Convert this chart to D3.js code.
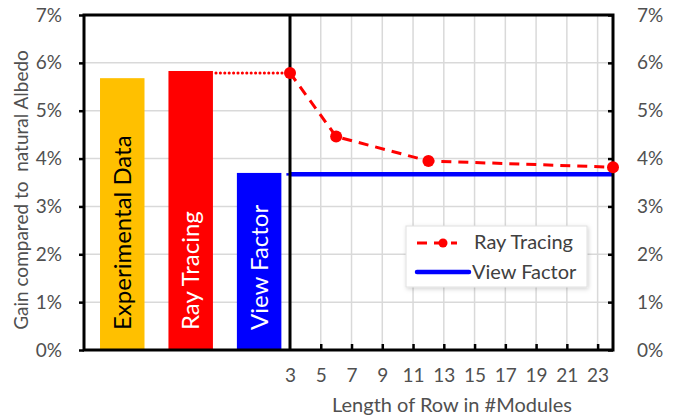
<!DOCTYPE html>
<html>
<head>
<meta charset="utf-8">
<script src="https://cdn.jsdelivr.net/npm/d3@7"></script>
<style>
  html, body { margin: 0; padding: 0; background: #fff; }
  svg { display: block; }
  text { font-family: Lato, "Open Sans", sans-serif; }
</style>
</head>
<body>
<svg id="chart" width="675" height="415"></svg>
<script>
// Left panel: single-value bars per method
const barCategories = ["Experimental Data", "Ray Tracing", "View Factor"];
const barValues = [0.0568, 0.0583, 0.0370];
const barColors = ["#FFC000", "#FF0000", "#0000FF"];
const barTextColors = ["#000000", "#FFFFFF", "#FFFFFF"];

// Right panel: gain vs. row length
const rayLengths = [3, 6, 12, 24];
const rayGain = [0.0579, 0.0446, 0.0395, 0.0382];
const viewLengths = [3, 24];
const viewGain = [0.0367, 0.0367];

const yTicks = [0, 0.01, 0.02, 0.03, 0.04, 0.05, 0.06, 0.07];
const xTicks = [3, 5, 7, 9, 11, 13, 15, 17, 19, 21, 23];
const legendItems = ["Ray Tracing", "View Factor"];

const svg = d3.select("#chart");
const pLeft = 84, pMid = 290, pRight = 613, pTop = 15, pBottom = 350;

const y = d3.scaleLinear().domain([0, 0.07]).range([pBottom, pTop]);
const xBand = d3.scaleBand().domain(barCategories).range([pLeft, pMid])
  .paddingInner(0.35).paddingOuter(0.18).align(0.65);
const x = d3.scaleLinear().domain([3, 24]).range([pMid, pRight]);
const pct = d3.format(".0%");

// horizontal gridlines across both panels
svg.append("g").selectAll("line").data(yTicks.slice(1)).join("line")
  .attr("x1", pLeft).attr("x2", pRight)
  .attr("y1", d => y(d)).attr("y2", d => y(d))
  .attr("stroke", "#d9d9d9").attr("stroke-width", 1.5);

// vertical gridlines in the right panel
svg.append("g").selectAll("line").data(xTicks.slice(1)).join("line")
  .attr("x1", d => x(d)).attr("x2", d => x(d))
  .attr("y1", pTop).attr("y2", pBottom)
  .attr("stroke", "#d9d9d9").attr("stroke-width", 1.5);

// bars
svg.append("g").selectAll("rect").data(barCategories).join("rect")
  .attr("x", d => xBand(d)).attr("width", xBand.bandwidth())
  .attr("y", (d, i) => y(barValues[i]))
  .attr("height", (d, i) => y(0) - y(barValues[i]))
  .attr("fill", (d, i) => barColors[i]);

// rotated labels inside the bars
svg.append("g").selectAll("text").data(barCategories).join("text")
  .attr("transform", d => `translate(${xBand(d) + xBand.bandwidth() / 2 + 8.5},${pBottom - 20}) rotate(-90)`)
  .attr("font-family", "'Liberation Sans', Arial, sans-serif")
  .attr("font-size", 24)
  .attr("fill", (d, i) => barTextColors[i])
  .text(d => d);

// dotted connectors from bar tops into the right panel
svg.append("line")
  .attr("x1", xBand("Ray Tracing") + xBand.bandwidth() + 3).attr("x2", x(3) - 5)
  .attr("y1", y(rayGain[0])).attr("y2", y(rayGain[0]))
  .attr("stroke", "#FF0000").attr("stroke-width", 3)
  .attr("stroke-dasharray", "0.1,4.3").attr("stroke-linecap", "round");
svg.append("line")
  .attr("x1", xBand("View Factor") + xBand.bandwidth() + 5).attr("x2", x(3))
  .attr("y1", y(viewGain[0])).attr("y2", y(viewGain[0]))
  .attr("stroke", "#0000FF").attr("stroke-width", 2.5);

// View Factor line
svg.append("path")
  .datum(viewLengths.map((d, i) => [d, viewGain[i]]))
  .attr("fill", "none").attr("stroke", "#0000FF").attr("stroke-width", 4.5)
  .attr("d", d3.line().x(d => x(d[0])).y(d => y(d[1])));

// Ray Tracing dashed line with markers
const rayPts = rayLengths.map((d, i) => [d, rayGain[i]]);
svg.append("path").datum(rayPts)
  .attr("fill", "none").attr("stroke", "#FF0000").attr("stroke-width", 3)
  .attr("stroke-dasharray", "10,7")
  .attr("d", d3.line().x(d => x(d[0])).y(d => y(d[1])));

// frame
const frame = svg.append("g").attr("stroke", "#000").attr("stroke-width", 3).attr("fill", "none");
frame.append("rect").attr("x", pLeft).attr("y", pTop).attr("width", pRight - pLeft).attr("height", pBottom - pTop);
frame.append("line").attr("x1", pMid).attr("x2", pMid).attr("y1", pTop).attr("y2", pBottom);

svg.append("g").selectAll("circle").data(rayPts).join("circle")
  .attr("cx", d => x(d[0])).attr("cy", d => y(d[1])).attr("r", 6)
  .attr("fill", "#FF0000");

// left axis (ticks outward)
const axL = svg.append("g").attr("transform", `translate(${pLeft},0)`)
  .call(d3.axisLeft(y).tickValues(yTicks).tickFormat(pct).tickSize(5).tickPadding(17));
// right axis (ticks inward)
const axR = svg.append("g").attr("transform", `translate(${pRight},0)`)
  .call(d3.axisRight(y).tickValues(yTicks).tickFormat(pct).tickSize(-5).tickPadding(24));
// bottom axis of the right panel (ticks inward)
const axB = svg.append("g").attr("transform", `translate(0,${pBottom})`)
  .call(d3.axisBottom(x).tickValues(xTicks).tickSize(-6).tickPadding(19));

[axL, axR, axB].forEach(g => {
  g.select(".domain").remove();
  g.selectAll(".tick line").attr("stroke", "#000").attr("stroke-width", 2.5);
  g.selectAll(".tick text").attr("font-family", "Lato, sans-serif")
    .attr("font-size", 19).attr("fill", "#505050");
});
axB.selectAll(".tick line").filter(d => d === 3).remove();

// axis titles
svg.append("text")
  .attr("transform", `translate(28,190) rotate(-90)`)
  .attr("text-anchor", "middle").attr("font-size", 19).attr("fill", "#505050")
  .style("white-space", "pre")
  .text("Gain compared to  natural Albedo");
svg.append("text")
  .attr("x", 452).attr("y", 412)
  .attr("text-anchor", "middle").attr("font-size", 20).attr("fill", "#505050")
  .text("Length of Row in #Modules");

// legend
const defs = svg.append("defs");
const f = defs.append("filter").attr("id", "shadow").attr("x", "-10%").attr("y", "-20%")
  .attr("width", "130%").attr("height", "150%");
f.append("feDropShadow").attr("dx", 1).attr("dy", 1.5).attr("stdDeviation", 2)
  .attr("flood-color", "#000").attr("flood-opacity", 0.18);

const lg = svg.append("g").attr("transform", "translate(406,226)");
lg.append("rect").attr("width", 181).attr("height", 61)
  .attr("fill", "#fff").attr("stroke", "#e0e0e0").attr("filter", "url(#shadow)");
lg.append("line").attr("x1", 11).attr("x2", 51).attr("y1", 17).attr("y2", 17)
  .attr("stroke", "#FF0000").attr("stroke-width", 3).attr("stroke-dasharray", "10,7");
lg.append("circle").attr("cx", 37).attr("cy", 17).attr("r", 4.5).attr("fill", "#FF0000");
lg.append("line").attr("x1", 11).attr("x2", 63).attr("y1", 46).attr("y2", 46)
  .attr("stroke", "#0000FF").attr("stroke-width", 4.5).attr("stroke-linecap", "round");
lg.selectAll("text.item").data(legendItems).join("text").attr("class", "item")
  .attr("x", (d, i) => i === 0 ? 68 : 66).attr("y", (d, i) => i === 0 ? 23 : 53)
  .attr("font-size", 20).attr("fill", "#404040")
  .text(d => d);
</script>
</body>
</html>
